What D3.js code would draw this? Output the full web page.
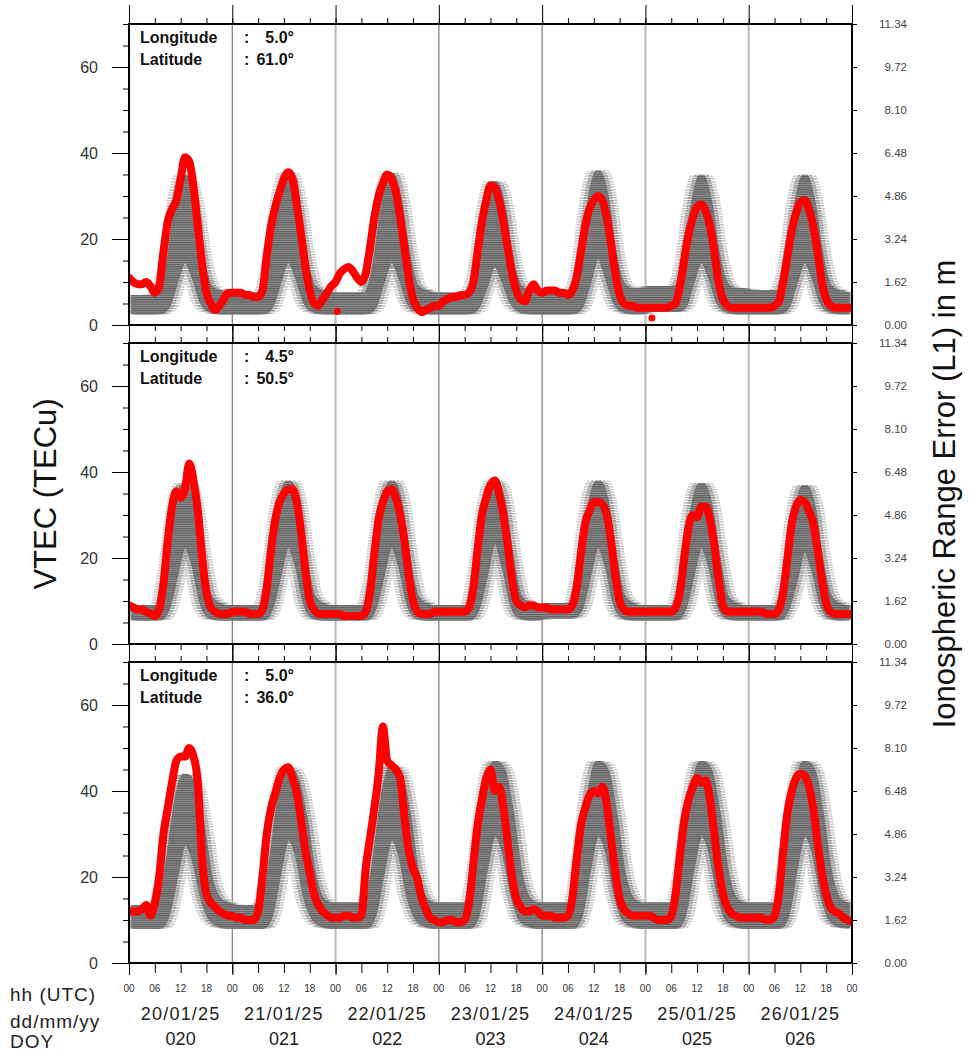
<!DOCTYPE html>
<html>
<head>
<meta charset="utf-8">
<script src="https://cdn.jsdelivr.net/npm/d3@7"></script>
<style>
  body { margin: 0; background: #fff; }
  text { font-family: "Liberation Sans", Arial, sans-serif; }
</style>
</head>
<body>
<div id="chart"></div>
<script>
// ---- data ----
const dayLabels = ["20/01/25", "21/01/25", "22/01/25", "23/01/25", "24/01/25", "25/01/25", "26/01/25"];
const doyLabels = ["020", "021", "022", "023", "024", "025", "026"];
const hourLabels = ["00", "06", "12", "18"];
const vtecTicks = [0, 20, 40, 60];
const rangeTicks = [0.00, 1.62, 3.24, 4.86, 6.48, 8.10, 9.72, 11.34];
const lonLabels = ["5.0°", "4.5°", "5.0°"];
const latLabels = ["61.0°", "50.5°", "36.0°"];

// hourly measured VTEC (red), 0..168 h
const red61 = [
  11, 10, 9.5, 9.5, 10, 9, 7.5, 9, 17, 24, 27, 29, 34, 39, 38, 32, 23, 14, 7.5, 5, 3.5, 4.5, 6, 7.5,
  7.5, 7.5, 7.5, 7, 7, 6.5, 6.5, 8, 16, 23, 27.5, 31, 34, 35.5, 34, 28, 21, 13.5, 8, 5, 4.5, 6, 7.5, 9,
  10, 12, 13, 13.5, 12.5, 11, 10, 12, 18, 25, 30, 33, 35, 34, 31, 25, 18, 11, 6, 4, 3, 3.5, 4, 4.5,
  4.5, 5.5, 6, 6.5, 6.5, 7, 7, 7.5, 10, 17, 24, 29, 32.5, 32, 29, 24, 18, 12, 8, 6, 5.5, 8, 9.5, 8,
  7.5, 8, 8, 8, 7.5, 7.5, 7, 8, 11, 17, 23, 27, 29, 30, 29, 25, 19, 12, 7, 5, 4.5, 4.5, 4, 4,
  4, 4, 4, 4, 4, 4, 4.5, 5, 9, 15, 21, 25, 27.5, 28, 26.5, 23, 17, 10, 6, 4.5, 4, 4, 4, 4,
  4, 4, 4, 4, 4, 4, 4.5, 5.5, 10, 16, 22, 26, 28.5, 29, 27, 23, 17, 10, 6, 4.5, 4, 4, 4, 4,
  4
];
const red50 = [
  9, 8.5, 8, 8, 7.5, 7, 6.5, 8, 14, 24, 32, 35.5, 34, 36, 42, 38, 31, 20, 12, 8.5, 7.5, 7, 7, 7,
  7.5, 7.5, 7.5, 7.5, 7, 7, 7, 8, 13, 22, 29, 33, 35, 36, 36, 33, 26, 17, 10, 8, 7, 7, 7, 7,
  7, 7, 6.5, 6.5, 6.5, 6.5, 6.5, 7.5, 12, 21, 29, 33, 35.5, 36, 34, 30, 24, 16, 10, 7.5, 7, 7, 7, 7.5,
  7.5, 7.5, 7.5, 7.5, 7.5, 7.5, 7.5, 8.5, 13, 22, 30, 34, 37, 38, 35, 30, 23, 15, 10, 9, 8.5, 9, 9, 8.5,
  8.5, 8.5, 8, 8, 8, 8, 8, 9, 13, 21, 28, 31, 33, 33, 32.5, 30, 24, 16, 10, 8, 7.5, 7.5, 7.5, 7.5,
  7.5, 7.5, 7.5, 7.5, 7.5, 7.5, 7.5, 8.5, 12, 20, 27, 30, 29.5, 32, 32, 29, 23, 15, 9, 7.5, 7.5, 7.5, 7.5, 7.5,
  7.5, 7.5, 7.5, 7.5, 7, 7, 7, 8, 12, 20, 28, 32, 33.5, 33, 31, 28, 22, 15, 9.5, 7.5, 7, 7, 7, 7,
  7
];
const red36 = [
  12, 12, 12, 12.5, 13.5, 11, 14, 20, 30, 36, 42, 47, 48, 48, 50, 48, 42, 24, 16, 14, 13, 12, 11.5, 11,
  11, 10.5, 10.5, 10, 10, 10, 12, 20, 30, 36, 39.5, 43, 45, 45.5, 43, 39.5, 33, 26, 21, 16, 13.5, 12, 11.2, 10.5,
  10.5, 10.5, 11, 11, 10.5, 10.5, 11, 22, 29, 36, 44, 55, 47, 46, 45, 43, 34, 26, 22, 19.5, 15, 12.5, 10.5, 10,
  9.5, 9.5, 10, 10, 9.5, 9.5, 10, 14, 23, 32, 38, 43, 45, 40, 41, 36, 28, 20, 15, 13, 12, 12, 12.5, 12,
  11, 11, 11, 10.5, 10.5, 10.5, 11, 15, 24, 32, 36, 39, 40, 39.5, 41, 37, 29, 21, 15, 12.5, 11.5, 11, 11, 11,
  11, 11, 10.5, 10, 10, 10, 11, 16, 25, 33, 38, 41, 43, 42, 42.5, 38, 30, 22, 16, 13, 11.5, 11, 10.5, 10.5,
  10.5, 10.5, 10.5, 10.5, 10, 10, 11, 16, 26, 35, 40, 43, 44, 43.5, 41, 36, 28, 21, 16, 13, 12, 11.5, 10.5, 10,
  9.5
];
// isolated red points [hour, VTEC]
const redDots61 = [[48.4, 3.2], [121.5, 1.6]];
const redDots50 = [];
const redDots36 = [[15.6, 44], [16.1, 38], [16.5, 33]];

// grey reference spread, at odd hours 1, 3, ..., 167
const greyLo61 = [
  2.5, 2.5, 2.5, 2.5, 4, 10, 15, 11, 5, 3, 2.5, 2.5,
  2.5, 2.5, 2.5, 2.5, 4, 10, 15, 11, 5, 3, 2.5, 2.5,
  2.5, 2.5, 2.5, 2.5, 4, 10, 15, 11, 5, 3, 2.5, 2.5,
  2.5, 2.5, 2.5, 2.5, 4, 9, 14, 10, 5, 3, 2.5, 2.5,
  2.5, 2.5, 2.5, 2.5, 4, 10, 16, 11, 5, 3, 2.5, 2.5,
  3, 3, 3, 3, 4, 10, 15, 11, 5, 3, 2.5, 2.5,
  2.5, 2.5, 2.5, 2.5, 4, 10, 15, 11, 5, 3, 2.5, 2.5
];
const greyHi61 = [
  7, 7, 7, 7.5, 14, 28, 35, 29, 16, 9, 8, 7.5,
  7.5, 7.5, 7.5, 7.5, 14, 28, 35.5, 29, 16, 9, 8, 7.5,
  7.5, 7.5, 7.5, 7.5, 14, 28, 35.5, 29, 16, 9, 8, 7.5,
  7.5, 7.5, 7.5, 7.5, 13, 27, 33.5, 28, 15, 9, 8, 7.5,
  8, 8, 8, 8, 14, 29, 36, 30, 16, 9.5, 8.5, 8.5,
  9, 9, 9, 9, 14, 28, 35, 29, 16, 9.5, 8.5, 8.5,
  8, 8, 8, 8, 14, 28, 35, 29, 16, 9, 8, 7.5
];
const greyLo50 = [
  5.5, 5.5, 5.5, 5.5, 8, 16, 23, 18, 9, 6, 5.5, 5.5,
  5.5, 5.5, 5.5, 5.5, 8, 16, 23, 18, 9, 6, 5.5, 5.5,
  5.5, 5.5, 5.5, 5.5, 8, 16, 23, 18, 9, 6, 5.5, 5.5,
  5.5, 5.5, 5.5, 5.5, 8, 16, 24, 18, 9, 6, 5.5, 5.5,
  6, 6, 6, 6, 8, 16, 23, 18, 9, 6, 5.5, 5.5,
  5.5, 5.5, 5.5, 5.5, 8, 16, 23, 18, 9, 6, 5.5, 5.5,
  5.5, 5.5, 5.5, 5.5, 8, 15, 22, 17, 9, 6, 5.5, 5.5
];
const greyHi50 = [
  9, 9, 9, 9, 17, 32, 37.5, 33, 20, 11, 9.5, 9,
  9, 9, 9, 9, 17, 32, 38, 33.5, 20, 11, 9.5, 9,
  9, 9, 9, 9, 17, 32, 38, 33.5, 20, 11, 9.5, 9,
  9, 9, 9, 9, 17, 32, 38, 33.5, 20, 11, 9.5, 9,
  9.5, 9.5, 9.5, 9.5, 17, 32, 38, 33.5, 20, 11, 9.5, 9,
  9, 9, 9, 9, 17, 32, 37.5, 33, 20, 11, 9.5, 9,
  9, 9, 9, 9, 16, 31, 37, 32.5, 19, 11, 9.5, 9
];
const greyLo36 = [
  8, 8, 8, 8, 11, 20, 28, 24, 15, 10, 8.5, 8,
  8, 8, 8, 8, 11, 21, 29, 25, 15, 10, 8.5, 8,
  8, 8, 8, 8, 11, 21, 29, 25, 15, 10, 8.5, 8,
  8, 8, 8, 8, 11, 22, 30, 26, 16, 10, 8.5, 8,
  8, 8, 8, 8, 11, 22, 30, 26, 16, 10, 8.5, 8,
  8, 8, 8, 8, 11, 22, 30, 26, 16, 10, 8.5, 8,
  8, 8, 8, 8, 11, 22, 30, 26, 16, 10, 8.5, 8
];
const greyHi36 = [
  13.5, 13.5, 13.5, 14, 24, 38, 44, 42, 33, 20, 15, 14,
  13.5, 13.5, 13.5, 14, 24, 39, 45.5, 43, 34, 21, 15, 14,
  14, 14, 14, 14, 24, 39, 46, 44, 35, 21, 15, 14,
  14, 14, 14, 14, 24, 40, 47, 45, 35, 21, 15, 14,
  14, 14, 14, 14, 24, 40, 47, 45, 35, 21, 15, 14,
  14, 14, 14, 14, 24, 40, 47, 45, 35, 21, 15, 14,
  14, 14, 14, 14, 24, 40, 47, 45, 35, 21, 15, 14
];

const redSeries = [red61, red50, red36];
const redDots = [redDots61, redDots50, redDots36];
const greyLo = [greyLo61, greyLo50, greyLo36];
const greyHi = [greyHi61, greyHi50, greyHi36];

// ---- layout ----
const W = 969, H = 1054;
const plotL = 129, plotR = 852, panelH = 301;
const panelTops = [24, 343, 662];
const dayLineStyle = ["#7a7a7a", "#b8b8b8", "#7a7a7a", "#7a7a7a", "#b8b8b8", "#b8b8b8"];
const dayLineWidth = [1.2, 2, 1.2, 1.2, 2, 2];

const svg = d3.select("#chart").append("svg").attr("width", W).attr("height", H);
const defs = svg.append("defs");

// striped fills give the grey cloud its dashed look
function stripes(id, bg, fg, h, gap) {
  let p = defs.append("pattern").attr("id", id).attr("patternUnits", "userSpaceOnUse")
    .attr("width", 14).attr("height", h + gap);
  if (bg) p.append("rect").attr("width", 14).attr("height", h + gap).attr("fill", bg);
  p.append("rect").attr("x", 0).attr("y", 0).attr("width", 14).attr("height", h).attr("fill", fg);
}
stripes("gHalo", null, "#c4c4c4", 1.5, 1.2);
stripes("gMid", null, "#9a9a9a", 1.4, 1.1);
stripes("gCore", "#8c8c8c", "#636363", 1.2, 1);

const x = d3.scaleLinear().domain([0, 168]).range([plotL, plotR]);
const hours6 = d3.range(0, 169, 6);
const hours24 = d3.range(0, 169, 24);

function styleAxis(g) {
  g.select(".domain").remove();
  g.selectAll(".tick line").attr("stroke", "#000");
  g.attr("font-family", null).attr("font-size", null);
}

panelTops.forEach((top, p) => {
  let y = d3.scaleLinear().domain([0, 70]).range([top + panelH, top]);
  let yR = d3.scaleLinear().domain([0, 11.34]).range([top + panelH, top]);
  let g = svg.append("g");

  defs.append("clipPath").attr("id", "clip" + p)
    .append("rect").attr("x", plotL).attr("y", top).attr("width", plotR - plotL).attr("height", panelH);
  let plot = g.append("g").attr("clip-path", `url(#clip${p})`);

  // day separators
  plot.selectAll(".day").data(d3.range(24, 168, 24)).join("line")
    .attr("class", "day")
    .attr("x1", d => x(d)).attr("x2", d => x(d))
    .attr("y1", top).attr("y2", top + panelH)
    .attr("stroke", (d, i) => dayLineStyle[i])
    .attr("stroke-width", (d, i) => dayLineWidth[i]);

  // grey spread (samples at odd hours)
  let band = d3.zip(greyLo[p], greyHi[p]);
  let area = d3.area()
    .x((d, i) => x(i * 2 + 1))
    .y0(d => y(d[0])).y1(d => y(d[1]))
    .curve(d3.curveMonotoneX);
  [-10, -5, 0, 5, 10].forEach(dx => {
    plot.append("path").datum(band).attr("d", area)
      .attr("transform", `translate(${dx},0)`).attr("fill", "url(#gHalo)");
  });
  [-6, -2, 2, 6].forEach(dx => {
    plot.append("path").datum(band).attr("d", area)
      .attr("transform", `translate(${dx},0)`).attr("fill", "url(#gMid)");
  });
  [-2, 0, 2].forEach(dx => {
    plot.append("path").datum(band).attr("d", area)
      .attr("transform", `translate(${dx},0)`).attr("fill", "url(#gCore)");
  });

  // measured VTEC
  let line = d3.line().x((d, i) => x(i)).y(d => y(d)).curve(d3.curveMonotoneX);
  plot.append("path").datum(redSeries[p]).attr("d", line)
    .attr("fill", "none").attr("stroke", "#ff0000").attr("stroke-width", 8)
    .attr("stroke-linejoin", "round").attr("stroke-linecap", "round");
  plot.selectAll(".dot").data(redDots[p]).join("circle")
    .attr("class", "dot")
    .attr("cx", d => x(d[0])).attr("cy", d => y(d[1])).attr("r", 3.5).attr("fill", "#ff0000");

  // frame
  g.append("rect").attr("x", plotL).attr("y", top).attr("width", plotR - plotL).attr("height", panelH)
    .attr("fill", "none").attr("stroke", "#000").attr("stroke-width", 2);

  // left axis
  g.append("g").attr("transform", `translate(${plotL},0)`)
    .call(d3.axisLeft(y).tickValues(d3.range(0, 71, 5)).tickSize(6).tickFormat(""))
    .call(styleAxis);
  g.append("g").attr("transform", `translate(${plotL},0)`)
    .call(d3.axisLeft(y).tickValues(vtecTicks).tickSize(17).tickPadding(14))
    .call(styleAxis)
    .call(a => a.selectAll("text").attr("fill", "#333").style("font-size", "16px"));

  // right axis (range error in m)
  g.append("g").attr("transform", `translate(${plotR},0)`)
    .call(d3.axisRight(yR).tickValues(rangeTicks).tickSize(5).tickFormat(d3.format(".2f")))
    .call(styleAxis)
    .call(a => a.selectAll("text").attr("x", 55).attr("text-anchor", "end")
      .attr("fill", "#444").style("font-size", "11.5px"));

  // top ticks
  g.append("g").attr("transform", `translate(0,${top})`)
    .call(d3.axisTop(x).tickValues(hours6).tickSize(6).tickFormat("")).call(styleAxis);
  g.append("g").attr("transform", `translate(0,${top})`)
    .call(d3.axisTop(x).tickValues(hours24).tickSize(19).tickFormat("")).call(styleAxis);

  // bottom ticks
  let last = p === panelTops.length - 1;
  g.append("g").attr("transform", `translate(0,${top + panelH})`)
    .call(d3.axisBottom(x).tickValues(hours6).tickSize(last ? 10 : 6).tickFormat(""))
    .call(styleAxis);
  g.append("g").attr("transform", `translate(0,${top + panelH})`)
    .call(d3.axisBottom(x).tickValues(hours24).tickSize(last ? 12 : 18).tickFormat(""))
    .call(styleAxis);

  // location label
  let lab = g.append("g").style("font-weight", "bold").style("font-size", "16px").attr("fill", "#111");
  lab.append("text").attr("x", 140).attr("y", top + 19).text("Longitude");
  lab.append("text").attr("x", 140).attr("y", top + 41).text("Latitude");
  lab.append("text").attr("x", 244).attr("y", top + 19).text(":");
  lab.append("text").attr("x", 244).attr("y", top + 41).text(":");
  lab.append("text").attr("x", 294).attr("y", top + 19).attr("text-anchor", "end").text(lonLabels[p]);
  lab.append("text").attr("x", 294).attr("y", top + 41).attr("text-anchor", "end").text(latLabels[p]);
});

// hour labels under the last panel
const bottomY = panelTops[2] + panelH;
svg.append("g").selectAll("text").data(hours6).join("text")
  .attr("x", d => x(d)).attr("y", bottomY + 29)
  .attr("text-anchor", "middle").attr("fill", "#333").style("font-size", "10px")
  .text(d => hourLabels[(d % 24) / 6]);

svg.append("g").selectAll("text").data(dayLabels).join("text")
  .attr("x", (d, i) => x(i * 24 + 12)).attr("y", 1020)
  .attr("text-anchor", "middle").attr("fill", "#222")
  .style("font-size", "18px").style("letter-spacing", "1.2px")
  .text(d => d);
svg.append("g").selectAll("text").data(doyLabels).join("text")
  .attr("x", (d, i) => x(i * 24 + 12)).attr("y", 1045)
  .attr("text-anchor", "middle").attr("fill", "#222").style("font-size", "18px")
  .text(d => d);

const rowLabels = svg.append("g").attr("fill", "#222").style("font-size", "19px").style("letter-spacing", "1px");
rowLabels.append("text").attr("x", 10).attr("y", 1001).text("hh (UTC)");
rowLabels.append("text").attr("x", 10).attr("y", 1028).text("dd/mm/yy");
rowLabels.append("text").attr("x", 10).attr("y", 1048).text("DOY");

// axis titles
svg.append("text").attr("transform", "translate(56,494) rotate(-90)")
  .attr("text-anchor", "middle").attr("fill", "#111").style("font-size", "31px")
  .text("VTEC (TECu)");
svg.append("text").attr("transform", "translate(955,494) rotate(-90)")
  .attr("text-anchor", "middle").attr("fill", "#111").style("font-size", "31px")
  .text("Ionospheric Range Error (L1) in m");
</script>
</body>
</html>
